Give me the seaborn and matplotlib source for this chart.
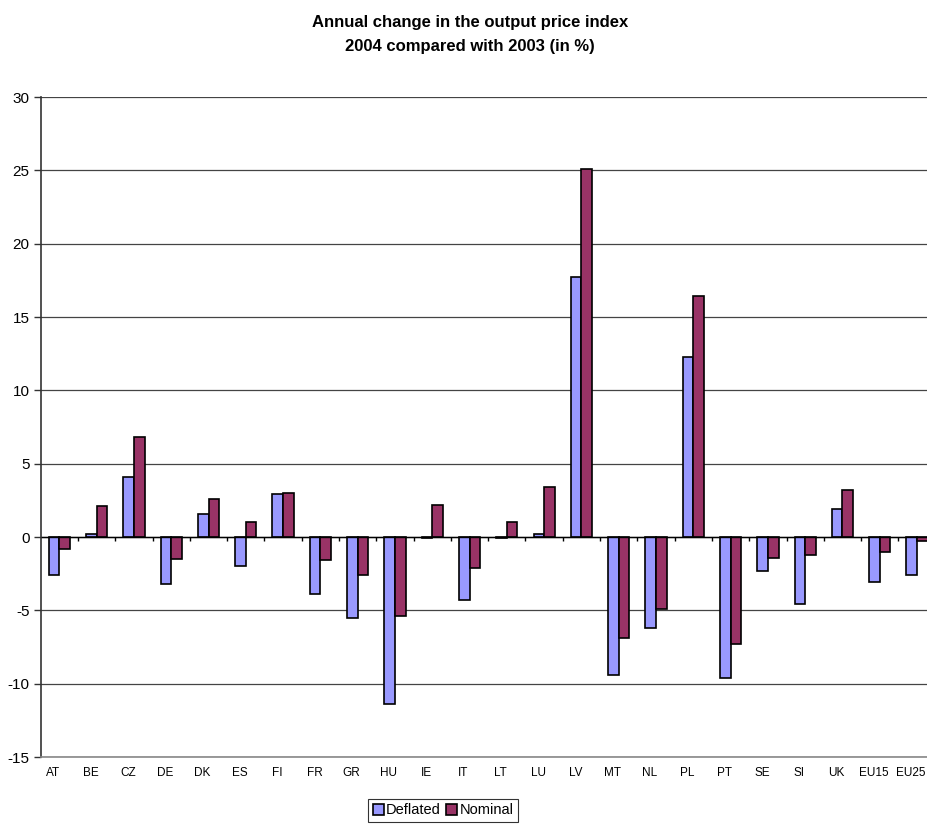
import matplotlib
matplotlib.use('Agg')

import numpy as np
import pandas as pd
import matplotlib.pyplot as plt
import matplotlib.transforms as mtransforms
import seaborn as sns

# data
countries = ['AT', 'BE', 'CZ', 'DE', 'DK', 'ES', 'FI', 'FR', 'GR', 'HU', 'IE', 'IT',
             'LT', 'LU', 'LV', 'MT', 'NL', 'PL', 'PT', 'SE', 'SI', 'UK', 'EU15', 'EU25']
deflated = [-2.6, 0.2, 4.1, -3.2, 1.6, -2.0, 2.9, -3.9, -5.5, -11.4, -0.1, -4.3,
            -0.1, 0.2, 17.7, -9.4, -6.2, 12.3, -9.6, -2.3, -4.6, 1.9, -3.1, -2.6]
nominal = [-0.8, 2.1, 6.8, -1.5, 2.6, 1.0, 3.0, -1.6, -2.6, -5.4, 2.2, -2.1,
           1.0, 3.4, 25.1, -6.9, -4.9, 16.4, -7.3, -1.4, -1.2, 3.2, -1.0, -0.3]
series = ['Deflated', 'Nominal']
colours = ['#9999FF', '#993366']

df = pd.DataFrame({'country': countries * 2,
                   'value': deflated + nominal,
                   'series': ['Deflated'] * len(countries) + ['Nominal'] * len(countries)})

sns.set_style('white')
plt.rcParams['font.family'] = ['Liberation Sans Narrow', 'Liberation Sans', 'DejaVu Sans']
plt.rcParams['axes.unicode_minus'] = False
plt.rcParams['text.color'] = 'black'
plt.rcParams['xtick.color'] = 'black'
plt.rcParams['ytick.color'] = 'black'

fig = plt.figure(figsize=(9.27, 8.27), dpi=100)
ax = fig.add_axes([0.0439, 0.0846, 0.9655, 0.7981])

# gridlines behind the bars
ax.set_axisbelow(True)
ax.yaxis.grid(True, color='#444444', linewidth=0.9)

sns.barplot(data=df, x='country', y='value', hue='series', hue_order=series,
            palette=colours, width=0.57, edgecolor='black', linewidth=1.2,
            saturation=1, ax=ax, legend=True)

ax.set_ylim(-15, 30)
ax.set_yticks(np.arange(-15, 31, 5))
ax.set_xlim(-0.5, len(countries) - 0.5)
ax.set_xlabel('')
ax.set_ylabel('')

# zero line with small ticks between categories
ax.axhline(0, color='black', linewidth=1.0, zorder=1)
ax.vlines(np.arange(0.5, len(countries) - 0.5), -0.25, 0, color='black', linewidth=1.0)

for side in ['top', 'right']:
    ax.spines[side].set_visible(False)
ax.spines['left'].set_color('#333333')
ax.spines['left'].set_linewidth(1.2)
ax.spines['bottom'].set_color('#888888')
ax.spines['bottom'].set_linewidth(1.2)

ax.tick_params(axis='y', left=True, length=5, width=1, color='#333333', labelsize=11, pad=3)
ax.tick_params(axis='x', bottom=False, length=0, labelsize=8.5, pad=7)

# category labels sit a little left of the bar pairs in the original
shift = mtransforms.ScaledTranslation(-6 / 100, 0, fig.dpi_scale_trans)
for lbl in ax.get_xticklabels():
    lbl.set_transform(lbl.get_transform() + shift)

fig.text(0.507, 0.982, 'Annual change in the output price index\n2004 compared with 2003 (in %)',
         ha='center', va='top', fontsize=12, fontweight='bold', linespacing=1.75)

handles, labels = ax.get_legend_handles_labels()
ax.legend(handles, labels, loc='upper center', bbox_to_anchor=(0.478, 0.034),
          bbox_transform=fig.transFigure, ncol=2, frameon=True, fancybox=False,
          edgecolor='black', fontsize=10.5, handlelength=0.75, handleheight=0.75,
          handletextpad=0.15, columnspacing=0.4, borderpad=0.3, borderaxespad=0)
ax.get_legend().get_frame().set_linewidth(0.8)

fig.savefig('out.png', dpi=100)
